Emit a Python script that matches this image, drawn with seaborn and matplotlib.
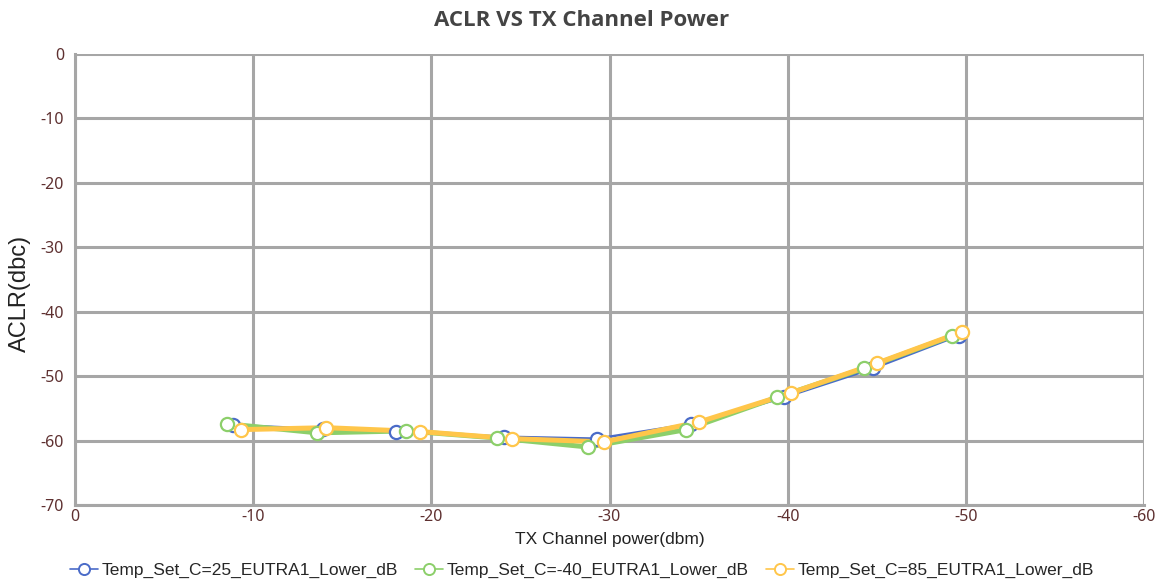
import matplotlib
matplotlib.use("Agg")
import matplotlib.pyplot as plt
import seaborn as sns
import pandas as pd

series_names = ["Temp_Set_C=25_EUTRA1_Lower_dB",
                "Temp_Set_C=-40_EUTRA1_Lower_dB",
                "Temp_Set_C=85_EUTRA1_Lower_dB"]

x_25 = [-8.86, -13.9, -18.0, -24.1, -29.3, -34.6, -39.8, -44.8, -49.6]
y_25 = [-57.6, -58.2, -58.6, -59.4, -59.7, -57.4, -53.3, -48.8, -43.7]

x_m40 = [-8.52, -13.6, -18.6, -23.7, -28.8, -34.3, -39.4, -44.3, -49.2]
y_m40 = [-57.4, -58.8, -58.5, -59.6, -61.0, -58.3, -53.3, -48.8, -43.8]

x_85 = [-9.31, -14.1, -19.35, -24.5, -29.7, -35.05, -40.2, -45.0, -49.8]
y_85 = [-58.3, -58.0, -58.6, -59.7, -60.2, -57.1, -52.6, -48.0, -43.1]

x_ticks = [0, -10, -20, -30, -40, -50, -60]
y_ticks = [0, -10, -20, -30, -40, -50, -60, -70]

colors = ["#4a6bc8", "#8ccf6a", "#ffc64a"]
widths = [1.8, 3.6, 3.6]

df = pd.concat([
    pd.DataFrame({"x": x_25, "y": y_25, "series": series_names[0]}),
    pd.DataFrame({"x": x_m40, "y": y_m40, "series": series_names[1]}),
    pd.DataFrame({"x": x_85, "y": y_85, "series": series_names[2]}),
])

sns.set_style("white")
plt.rcParams['font.family'] = ['Liberation Sans', 'DejaVu Sans']

fig = plt.figure(figsize=(11.64, 5.83), dpi=100)
ax = fig.add_axes([75/1164, 1-505/583, (1144-75)/1164, (505-54)/583])

grid_c = "#a6a6a6"
handles = []
for i, name in enumerate(series_names):
    sub = df[df["series"] == name]
    sns.lineplot(data=sub, x="x", y="y", ax=ax, color=colors[i], lw=widths[i],
                 sort=False, legend=False, zorder=3 + i)
    ax.plot(sub["x"], sub["y"], ls="none", marker="o", ms=9.5,
            mfc="white", mec=colors[i], mew=1.6, zorder=6 + i)
    h, = ax.plot([], [], color=colors[i], lw=1.2, marker="o", ms=8,
                 mfc="white", mec=colors[i], mew=1.4)
    handles.append(h)

ax.set_xlim(0, -60)
ax.set_ylim(-70, 0)
ax.set_xticks(x_ticks)
ax.set_yticks(y_ticks)
ax.set_xticklabels([str(v) for v in x_ticks])
ax.set_yticklabels([str(v) for v in y_ticks])
ax.grid(True, color=grid_c, lw=2.2)
ax.set_axisbelow(True)
for s in ["top", "right"]:
    ax.spines[s].set_visible(False)
for s in ["left", "bottom"]:
    ax.spines[s].set_color(grid_c)
    ax.spines[s].set_linewidth(2.2)

tick_c = "#5e3030"
ax.tick_params(axis="y", length=5, width=1.2, color=grid_c, pad=3, labelsize=11.5,
               labelcolor=tick_c)
ax.tick_params(axis="x", length=0, pad=3, labelsize=11.5, labelcolor=tick_c)
for lab in ax.get_xticklabels() + ax.get_yticklabels():
    lab.set_family(['Noto Sans', 'DejaVu Sans'])

ax.set_xlabel("TX Channel power(dbm)", fontsize=12.5, color="#222222", labelpad=5)
ax.set_ylabel("ACLR(dbc)", fontsize=17, color="#222222")
ax.yaxis.set_label_coords(-0.041, 0.47)
fig.text(0.5, 0.965, "ACLR VS TX Channel Power", ha="center", va="center",
         fontsize=16, fontweight="bold", color="#444444",
         family=['Open Sans', 'DejaVu Sans'])

fig.legend(handles, series_names, loc="center", bbox_to_anchor=(0.5, 0.022),
           ncol=3, frameon=False, fontsize=12.5, handlelength=1.6,
           handletextpad=0.2, columnspacing=1.0)

fig.savefig("out.png", dpi=100)
